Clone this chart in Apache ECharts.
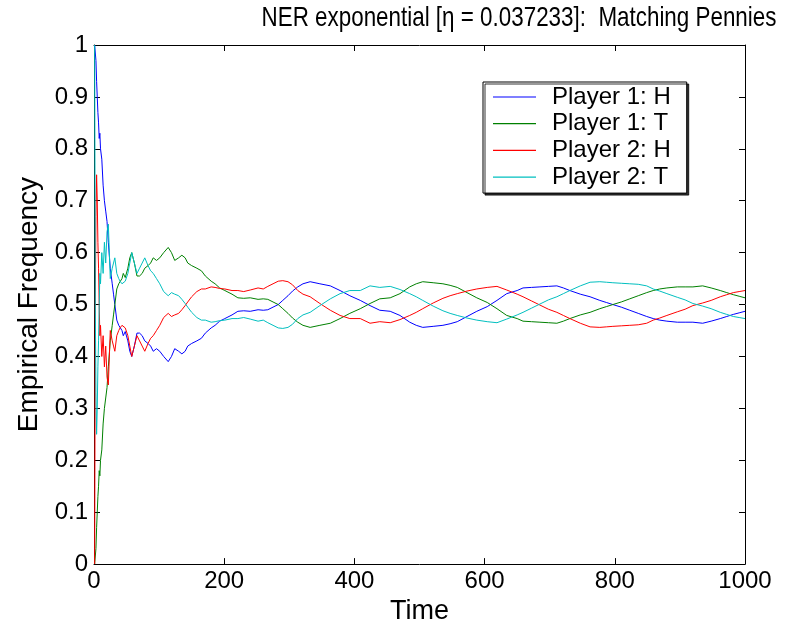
<!DOCTYPE html>
<html>
<head>
<meta charset="utf-8">
<script src="https://cdn.jsdelivr.net/npm/echarts@6/dist/echarts.min.js"></script>
<style>
  html, body { margin: 0; padding: 0; background: #fff; }
  #chart { width: 788px; height: 630px; }
</style>
</head>
<body>
<div id="chart"></div>
<script>
var time = [1,2,3,4,5,6,7,8,9,10,
  12,14,16,18,20,22,25,28,30,32,
  35,38,40,43,45,48,52,55,58,62,
  66,70,74,78,83,87,91,96,101,107,
  114,119,124,130,135,140,144,150,158,165,
  171,180,186,193,201,212,221,230,240,252,
  260,267,275,283,290,298,305,313,321,332,
  347,363,378,393,409,424,439,455,470,485,
  495,505,521,536,547,558,573,588,604,619,
  634,650,659,672,685,698,711,721,731,747,
  762,777,787,797,810,823,836,849,859,869,
  880,896,908,920,935,948,962,972,982,991,
  1000];

var p1H = [1.0,1.0,0.97,0.93,0.9,0.87,0.85,0.82,0.83,0.8,
  0.78,0.73,0.7,0.68,0.66,0.62,0.57,0.54,0.52,0.5,
  0.47,0.46,0.46,0.45,0.44,0.448,0.43,0.41,0.40,0.42,
  0.445,0.445,0.44,0.43,0.425,0.42,0.41,0.415,0.41,0.40,
  0.39,0.40,0.415,0.41,0.405,0.41,0.42,0.425,0.43,0.435,
  0.445,0.455,0.46,0.468,0.473,0.48,0.487,0.488,0.487,0.49,
  0.489,0.49,0.495,0.5,0.508,0.517,0.526,0.534,0.54,0.544,
  0.54,0.536,0.527,0.517,0.508,0.498,0.489,0.487,0.479,0.466,
  0.46,0.456,0.458,0.46,0.463,0.467,0.477,0.487,0.496,0.508,
  0.521,0.527,0.532,0.533,0.534,0.535,0.536,0.532,0.527,0.52,
  0.515,0.508,0.504,0.5,0.495,0.489,0.483,0.477,0.473,0.47,
  0.468,0.466,0.466,0.466,0.464,0.468,0.473,0.477,0.481,0.484,
  0.487];

var p1T = [0,0,0.03,0.07,0.1,0.13,0.15,0.18,0.17,0.2,
  0.22,0.27,0.3,0.32,0.34,0.38,0.43,0.46,0.48,0.5,
  0.53,0.54,0.54,0.55,0.56,0.552,0.57,0.59,0.6,0.58,
  0.555,0.555,0.56,0.57,0.575,0.58,0.59,0.585,0.59,0.6,
  0.61,0.6,0.585,0.59,0.595,0.59,0.58,0.575,0.57,0.565,
  0.555,0.545,0.54,0.532,0.527,0.52,0.513,0.512,0.513,0.51,
  0.511,0.51,0.505,0.5,0.492,0.483,0.474,0.466,0.46,0.456,
  0.46,0.464,0.473,0.483,0.492,0.502,0.511,0.513,0.521,0.534,
  0.54,0.544,0.542,0.54,0.537,0.533,0.523,0.513,0.504,0.492,
  0.479,0.473,0.468,0.467,0.466,0.465,0.464,0.468,0.473,0.48,
  0.485,0.492,0.496,0.5,0.505,0.511,0.517,0.523,0.527,0.53,
  0.532,0.534,0.534,0.534,0.536,0.532,0.527,0.523,0.519,0.516,
  0.513];

var p2H = [0,0.5,0.67,0.75,0.7,0.62,0.57,0.5,0.44,0.46,
  0.40,0.44,0.38,0.42,0.36,0.345,0.45,0.43,0.42,0.41,
  0.44,0.45,0.455,0.46,0.46,0.455,0.44,0.42,0.40,0.42,
  0.44,0.43,0.42,0.41,0.425,0.435,0.44,0.45,0.46,0.475,
  0.483,0.477,0.48,0.483,0.49,0.498,0.505,0.515,0.525,0.53,
  0.53,0.534,0.533,0.531,0.53,0.527,0.527,0.525,0.528,0.532,
  0.53,0.535,0.54,0.545,0.546,0.544,0.538,0.527,0.52,0.515,
  0.502,0.489,0.479,0.473,0.473,0.464,0.467,0.465,0.471,0.479,
  0.485,0.492,0.503,0.512,0.517,0.521,0.526,0.53,0.533,0.535,
  0.528,0.52,0.515,0.507,0.499,0.491,0.485,0.479,0.473,0.464,
  0.457,0.456,0.457,0.458,0.459,0.46,0.461,0.464,0.47,0.474,
  0.479,0.486,0.491,0.498,0.503,0.508,0.515,0.519,0.523,0.525,
  0.527];

var p2T = [1,0.5,0.33,0.25,0.3,0.38,0.43,0.5,0.56,0.54,
  0.6,0.56,0.62,0.58,0.64,0.655,0.55,0.57,0.58,0.59,
  0.56,0.55,0.545,0.54,0.54,0.545,0.56,0.58,0.6,0.58,
  0.56,0.57,0.58,0.59,0.575,0.565,0.56,0.55,0.54,0.525,
  0.517,0.523,0.52,0.517,0.51,0.502,0.495,0.485,0.475,0.47,
  0.47,0.466,0.467,0.469,0.47,0.473,0.473,0.475,0.472,0.468,
  0.47,0.465,0.46,0.455,0.454,0.456,0.462,0.473,0.48,0.485,
  0.498,0.511,0.521,0.527,0.527,0.536,0.533,0.535,0.529,0.521,
  0.515,0.508,0.497,0.488,0.483,0.479,0.474,0.47,0.467,0.465,
  0.472,0.48,0.485,0.493,0.501,0.509,0.515,0.521,0.527,0.536,
  0.543,0.544,0.543,0.542,0.541,0.54,0.539,0.536,0.53,0.526,
  0.521,0.514,0.509,0.502,0.497,0.492,0.485,0.481,0.477,0.475,
  0.473];

var titleText = 'NER exponential [\u03b7 = 0.037233]:  Matching Pennies';
var seriesNames = ['Player 1: H', 'Player 1: T', 'Player 2: H', 'Player 2: T'];
var seriesColors = ['#0000ff', '#008000', '#ff0000', '#00bfbf'];
var seriesValues = [p1H, p1T, p2H, p2T];

function pairs(vals) {
  return time.map(function (t, i) { return [t, vals[i]]; });
}

var chartDom = document.getElementById('chart');
var myChart = echarts.init(chartDom);
var option;

var font = 'Liberation Sans, Arial, sans-serif';
var axisBase = {
  axisLine: { show: true, onZero: false, lineStyle: { color: '#000', width: 1 } },
  axisTick: { show: true, inside: true, length: 6, lineStyle: { color: '#000' } },
  splitLine: { show: false }
};

option = {
  animation: false,
  backgroundColor: '#fff',
  textStyle: { fontFamily: font },
  // title drawn as a horizontally squeezed text, like the tall narrow original
  graphic: [{
    type: 'text',
    x: 519,
    y: 4,
    scaleX: 0.8,
    style: {
      text: titleText,
      x: 0, y: 0,
      align: 'center',
      verticalAlign: 'top',
      fontSize: 28,
      fontFamily: font,
      fill: '#000'
    }
  }],
  grid: { left: 94, right: 43, top: 45, bottom: 63 },
  legend: {
    orient: 'vertical',
    left: 483,
    top: 82,
    padding: [3, 16, 4, 10],
    icon: 'rect',
    itemWidth: 43,
    itemHeight: 1.2,
    itemGap: 2.7,
    backgroundColor: '#fff',
    borderColor: '#000',
    borderWidth: 1,
    shadowColor: 'rgba(0,0,0,0.8)',
    shadowOffsetX: 2,
    shadowOffsetY: 2,
    shadowBlur: 0,
    textStyle: { fontSize: 24, lineHeight: 24, color: '#000', fontFamily: font, padding: [0, 0, 0, 11] },
    data: seriesNames
  },
  xAxis: [
    Object.assign({
      type: 'value', min: 0, max: 1000, interval: 200,
      name: 'Time', nameLocation: 'middle', nameGap: 28,
      nameTextStyle: { fontSize: 27, color: '#000', fontFamily: font },
      axisLabel: { fontSize: 24, color: '#000', margin: 5, fontFamily: font,
        formatter: function (v) { return String(v); } }
    }, axisBase),
    Object.assign({
      type: 'value', min: 0, max: 1000, interval: 200, position: 'top',
      axisLabel: { show: false }
    }, axisBase)
  ],
  yAxis: [
    Object.assign({
      type: 'value', min: 0, max: 1, interval: 0.1,
      name: 'Empirical Frequency', nameLocation: 'middle', nameGap: 45,
      nameTextStyle: { fontSize: 28, color: '#000', fontFamily: font },
      axisLabel: { fontSize: 24, color: '#000', margin: 6, fontFamily: font,
        formatter: function (v) { return String(Math.round(v * 10) / 10); } }
    }, axisBase),
    Object.assign({
      type: 'value', min: 0, max: 1, interval: 0.1, position: 'right',
      axisLabel: { show: false }
    }, axisBase)
  ],
  series: seriesNames.map(function (name, k) {
    return {
      name: name,
      type: 'line',
      xAxisIndex: 0,
      yAxisIndex: 0,
      showSymbol: false,
      symbol: 'none',
      lineStyle: { width: 1, color: seriesColors[k] },
      itemStyle: { color: seriesColors[k] },
      data: pairs(seriesValues[k])
    };
  })
};

option && myChart.setOption(option);
</script>
</body>
</html>
